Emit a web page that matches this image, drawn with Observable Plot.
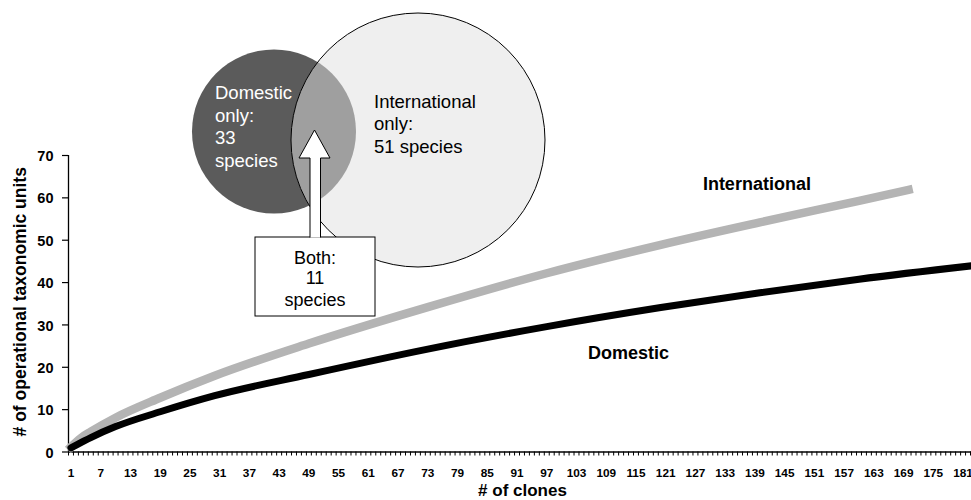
<!DOCTYPE html>
<html>
<head>
<meta charset="utf-8">
<script src="https://cdn.jsdelivr.net/npm/d3@7"></script>
<script src="https://cdn.jsdelivr.net/npm/@observablehq/plot@0.6"></script>
<style>
  html, body { margin: 0; padding: 0; background: #fff; }
  #chart svg { display: block; }
</style>
</head>
<body>
<div id="chart"></div>
<script>
// ---- Data ----
// International: cumulative OTUs vs. number of clones
const internationalClones = [1, 3, 5, 10, 19, 30, 49, 73, 97, 120, 140, 160, 170];
const internationalOTUs   = [1.2, 3.3, 4.8, 8.1, 12.8, 18.0, 25.6, 34.2, 42.2, 48.9, 54.2, 59.3, 61.9];
// Domestic
const domesticClones = [1, 3, 5, 10, 19, 30, 49, 73, 97, 120, 140, 160, 183];
const domesticOTUs   = [1.0, 2.2, 3.4, 6.0, 9.5, 13.3, 18.3, 24.3, 29.6, 34.1, 37.6, 40.8, 44.0];

const xTickLabels = d3.range(1, 182, 6);          // 1, 7, ..., 181
const xBoundaries = d3.range(0.5, 183, 1);         // category separators
const yTicks = [0, 10, 20, 30, 40, 50, 60, 70];

const seriesNames = ["International", "Domestic"];
const vennLabels = {
  domestic: ["Domestic", "only:", "33", "species"],
  international: ["International", "only:", "51 species"],
  both: ["Both:", "11", "species"]
};
const xTitle = "# of clones";
const yTitle = "# of operational taxonomic units";

// tables built from the arrays
const intl = internationalClones.map((c, i) => ({clone: c, otu: internationalOTUs[i]}));
const dom = domesticClones.map((c, i) => ({clone: c, otu: domesticOTUs[i]}));
// label anchor positions (data coords)
const labelPos = [{name: seriesNames[0], x: 128.5, y: 63.3}, {name: seriesNames[1], x: 105.3, y: 23.2}];

const FONT = "'Liberation Sans', Arial, Helvetica, sans-serif";

const chart = Plot.plot({
  width: 971,
  height: 500,
  marginLeft: 68,
  marginRight: 0,
  marginTop: 155,
  marginBottom: 48.5,
  x: {domain: [0.5, 182.7]},
  y: {domain: [0, 70]},
  style: {fontFamily: FONT, background: "white", color: "black", overflow: "visible"},
  marks: [
    Plot.axisY({ticks: yTicks, tickSize: 6, tickFormat: () => "", label: null, strokeWidth: 1.2}),
    Plot.axisX({ticks: xBoundaries, tickSize: 4, tickFormat: () => "", label: null, strokeWidth: 1}),
    Plot.text(yTicks, {frameAnchor: "left", y: d => d, dx: -15, dy: 1, text: d => String(d), textAnchor: "end", lineAnchor: "middle", fontSize: 14.5, fontWeight: "bold", fill: "black"}),
    Plot.text(xTickLabels, {frameAnchor: "bottom", x: d => d, dy: 21.4, text: d => String(d), textAnchor: "middle", lineAnchor: "middle", fontSize: 11.8, fontWeight: "bold", fill: "black"}),
    Plot.ruleX([0.5], {y1: 0, y2: 70, stroke: "black", strokeWidth: 1.3}),
    Plot.ruleY([0], {stroke: "black", strokeWidth: 1.6}),
    Plot.line(intl, {x: "clone", y: "otu", stroke: "#b4b4b4", strokeWidth: 8.5, curve: "monotone-x", strokeLinecap: "square"}),
    Plot.line(dom, {x: "clone", y: "otu", stroke: "black", strokeWidth: 7, curve: "monotone-x"}),
    Plot.text(labelPos, {x: "x", y: "y", text: "name", textAnchor: "start", fontSize: 18, fontWeight: "bold", fill: "black"}),
    Plot.text([yTitle], {frameAnchor: "left", dx: -48, dy: -2, rotate: -90, textAnchor: "middle", fontSize: 17.5, fontWeight: "bold", fill: "black"}),
    Plot.text([xTitle], {frameAnchor: "bottom", dx: 2.5, dy: 31.5, lineAnchor: "top", textAnchor: "middle", fontSize: 17, fontWeight: "bold", fill: "black"})
  ]
});

document.getElementById("chart").appendChild(chart);

// ---- Venn inset (decorative diagram, pixel layout) ----
const svg = d3.select(chart);
const g = svg.append("g").attr("font-family", FONT).attr("text-anchor", "start");
const dark = {cx: 274, cy: 131.5, r: 82};
const big = {cx: 418, cy: 140, r: 127};

svg.append("defs").append("clipPath").attr("id", "bigClip")
  .append("circle").attr("cx", big.cx).attr("cy", big.cy).attr("r", big.r);

g.append("circle").attr("cx", dark.cx).attr("cy", dark.cy).attr("r", dark.r).attr("fill", "#5b5b5b");
g.append("circle").attr("cx", big.cx).attr("cy", big.cy).attr("r", big.r).attr("fill", "#efefef");
g.append("circle").attr("cx", dark.cx).attr("cy", dark.cy).attr("r", dark.r).attr("fill", "#9f9f9f").attr("clip-path", "url(#bigClip)");
g.append("circle").attr("cx", big.cx).attr("cy", big.cy).attr("r", big.r).attr("fill", "none").attr("stroke", "#000").attr("stroke-width", 1);

const tDom = g.append("text").attr("fill", "#fff").attr("font-size", 18.5).attr("text-anchor", "start");
vennLabels.domestic.forEach((s, i) => tDom.append("tspan").attr("x", 215).attr("y", 99 + i * 22.6).text(s));
const tInt = g.append("text").attr("fill", "#000").attr("font-size", 18.5).attr("text-anchor", "start");
vennLabels.international.forEach((s, i) => tInt.append("tspan").attr("x", 374).attr("y", 108 + i * 22.3).text(s));

// callout box with arrow
g.append("rect").attr("x", 255).attr("y", 237).attr("width", 120).attr("height", 79)
  .attr("fill", "#fff").attr("stroke", "#000").attr("stroke-width", 1);
const arrowPts = [[310, 237.5], [310, 158], [299, 158], [314.5, 130], [330, 158], [320.5, 158], [320.5, 237.5]];
g.append("path").attr("d", "M" + arrowPts.join("L") + "Z").attr("fill", "#fff");
g.append("path").attr("d", "M" + arrowPts.join("L")).attr("fill", "none").attr("stroke", "#000").attr("stroke-width", 1);

const tBoth = g.append("text").attr("fill", "#000").attr("font-size", 18).attr("text-anchor", "middle");
[264, 284, 306].forEach((yy, i) => tBoth.append("tspan").attr("x", 315).attr("y", yy).text(vennLabels.both[i]));
</script>
</body>
</html>
